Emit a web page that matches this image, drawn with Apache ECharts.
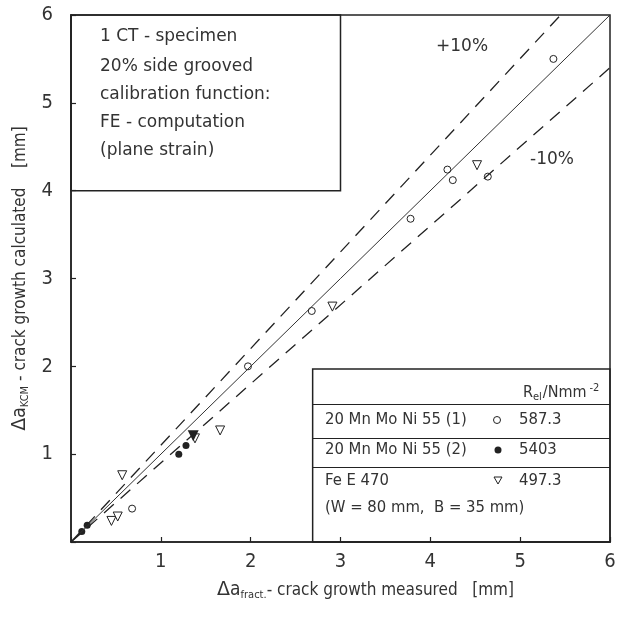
<!DOCTYPE html>
<html>
<head>
<meta charset="utf-8">
<script src="https://cdn.jsdelivr.net/npm/echarts@6/dist/echarts.min.js"></script>
<style>
html, body { margin: 0; padding: 0; background: #fff; }
#chart { width: 619px; height: 618px; }
</style>
</head>
<body>
<div id="chart"></div>
<script>
// values (x = measured, y = calculated, mm)
var mnMoNi1 = [[5.37, 5.50], [4.19, 4.24], [4.25, 4.12], [4.64, 4.16], [3.78, 3.68],
               [2.68, 2.63], [1.97, 2.00], [0.68, 0.38]];
var mnMoNi2 = [[1.20, 1.00], [1.28, 1.10], [0.18, 0.19], [0.12, 0.12]];
var feE470 = [[4.52, 4.29], [2.91, 2.68], [1.66, 1.27], [0.57, 0.76], [0.45, 0.24],
              [0.52, 0.29], [1.38, 1.18]];
var feE470Filled = [[1.36, 1.21]];
var diagonal = [[0, 0], [6, 6]];
var plus10 = [[0, 0], [5.45, 6]];
var minus10 = [[0, 0], [6, 5.4]];
var infoLines = ['1 CT - specimen', '20% side grooved', 'calibration function:',
                 'FE - computation', '(plane strain)'];
var materials = ['20 Mn Mo Ni 55 (1)', '20 Mn Mo Ni 55 (2)', 'Fe E 470'];
var yieldValues = ['587.3', '5403', '497.3'];

var ink = '#222';
var narrow = '"DejaVu Sans Condensed", "Liberation Sans Narrow", sans-serif';
var plain = '"DejaVu Sans", sans-serif';

var myChart = echarts.init(document.getElementById('chart'));

function txt(x, y, text, size, family, extra) {
  var st = { x: x, y: y, text: text, fill: '#333', fontSize: size, fontFamily: family,
             verticalAlign: 'middle', align: 'left' };
  for (var k in extra) st[k] = extra[k];
  return { type: 'text', silent: true, style: st };
}

var graphics = [];
var boxY = [37, 67, 95, 123, 151];
infoLines.forEach(function (s, i) {
  graphics.push(txt(100, boxY[i], s, 17, plain));
});
graphics.push(txt(436, 47, '+10%', 17, plain));
graphics.push(txt(530, 160, '-10%', 17, plain));

var rowY = [420, 450, 481];
materials.forEach(function (s, i) {
  graphics.push(txt(325, rowY[i], s, 16.5, narrow));
  graphics.push(txt(519, rowY[i], yieldValues[i], 16.5, narrow));
});
graphics.push(txt(325, 508, '(W = 80 mm,  B = 35 mm)', 16.5, narrow));
graphics.push({
  type: 'text', silent: true,
  style: {
    x: 523, y: 393, text: '{r|R}{s|el}{r|/Nmm}{p|-2}', fill: '#333', verticalAlign: 'middle',
    rich: {
      r: { fontSize: 16, fontFamily: narrow, fill: '#333' },
      s: { fontSize: 11, fontFamily: narrow, fill: '#333', padding: [9, 1, 0, 0] },
      p: { fontSize: 11, fontFamily: narrow, fill: '#333', padding: [0, 0, 9, 3] }
    }
  }
});
// legend symbols
graphics.push({ type: 'circle', silent: true, shape: { cx: 497, cy: 420, r: 3.5 },
  style: { fill: '#fff', stroke: ink, lineWidth: 1 } });
graphics.push({ type: 'circle', silent: true, shape: { cx: 498, cy: 450, r: 3.5 },
  style: { fill: ink } });
graphics.push({ type: 'polygon', silent: true, shape: { points: [[494, 477], [502, 477], [498, 484]] },
  style: { fill: '#fff', stroke: ink, lineWidth: 1 } });

var axisCommon = {
  type: 'value', min: 0, max: 6, interval: 1,
  axisLine: { lineStyle: { color: ink, width: 1.5 } },
  axisTick: { inside: true, length: 5, lineStyle: { color: ink, width: 1.2 } },
  splitLine: { show: false },
  nameLocation: 'middle'
};
var nameRich = {
  d: { fontSize: 19, fontFamily: plain, color: '#333' },
  a: { fontSize: 19, fontFamily: narrow, color: '#333' },
  s: { fontSize: 11, fontFamily: narrow, color: '#333', padding: [10, 0, 0, 0] },
  t: { fontSize: 17, fontFamily: narrow, color: '#333' }
};

var option = {
  backgroundColor: '#fff',
  animation: false,
  grid: { left: 71, right: 9, top: 15, bottom: 76, show: true, borderColor: ink, borderWidth: 1.5 },
  xAxis: echarts.util.merge({
    name: '{d|Δ}{a|a}{s|fract.}{t|- crack growth measured   [mm]}',
    nameGap: 38,
    nameTextStyle: { rich: nameRich, padding: [0, 0, 0, 50] },
    axisLabel: { margin: 10, fontSize: 20, fontFamily: narrow, color: '#333',
      formatter: function (v) { return v === 0 ? '' : v; } }
  }, axisCommon, false),
  yAxis: echarts.util.merge({
    name: '{d|Δ}{a|a}{s|KCM}{t| - crack growth calculated    [mm]}',
    nameGap: 40,
    nameTextStyle: { rich: nameRich },
    axisLabel: { margin: 18, fontSize: 20, fontFamily: narrow, color: '#333',
      formatter: function (v) { return v === 0 ? '' : v; } }
  }, axisCommon, false),
  graphic: graphics,
  series: [
    {
      type: 'line', data: diagonal, symbol: 'none', silent: true,
      lineStyle: { color: '#333', width: 1 },
      markArea: {
        silent: true,
        itemStyle: { color: 'rgba(0,0,0,0)', borderColor: ink, borderWidth: 1.5 },
        data: [
          [{ coord: [0, 4] }, { coord: [3, 6] }],
          [{ coord: [2.69, 0] }, { coord: [6, 1.97] }]
        ]
      },
      markLine: {
        silent: true, symbol: 'none', label: { show: false },
        lineStyle: { color: ink, type: 'solid', width: 1.2 },
        data: [
          [{ coord: [2.69, 1.57] }, { coord: [6, 1.57] }],
          [{ coord: [2.69, 1.18] }, { coord: [6, 1.18] }],
          [{ coord: [2.69, 0.85] }, { coord: [6, 0.85] }]
        ]
      }
    },
    { type: 'line', data: plus10, symbol: 'none', silent: true,
      lineStyle: { color: ink, width: 1.3, type: [13, 9] } },
    { type: 'line', data: minus10, symbol: 'none', silent: true,
      lineStyle: { color: ink, width: 1.3, type: [13, 9] } },
    { type: 'scatter', data: mnMoNi1, symbol: 'circle', symbolSize: 7,
      itemStyle: { color: '#fff', borderColor: ink, borderWidth: 1, opacity: 1 } },
    { type: 'scatter', data: mnMoNi2, symbol: 'circle', symbolSize: 7,
      itemStyle: { color: ink, opacity: 1 } },
    { type: 'scatter', data: feE470, symbol: 'triangle', symbolRotate: 180, symbolSize: 9,
      itemStyle: { color: '#fff', borderColor: ink, borderWidth: 1, opacity: 1 } },
    { type: 'scatter', data: feE470Filled, symbol: 'triangle', symbolRotate: 180, symbolSize: 11,
      itemStyle: { color: ink, opacity: 1 } }
  ]
};
myChart.setOption(option);
</script>
</body>
</html>
